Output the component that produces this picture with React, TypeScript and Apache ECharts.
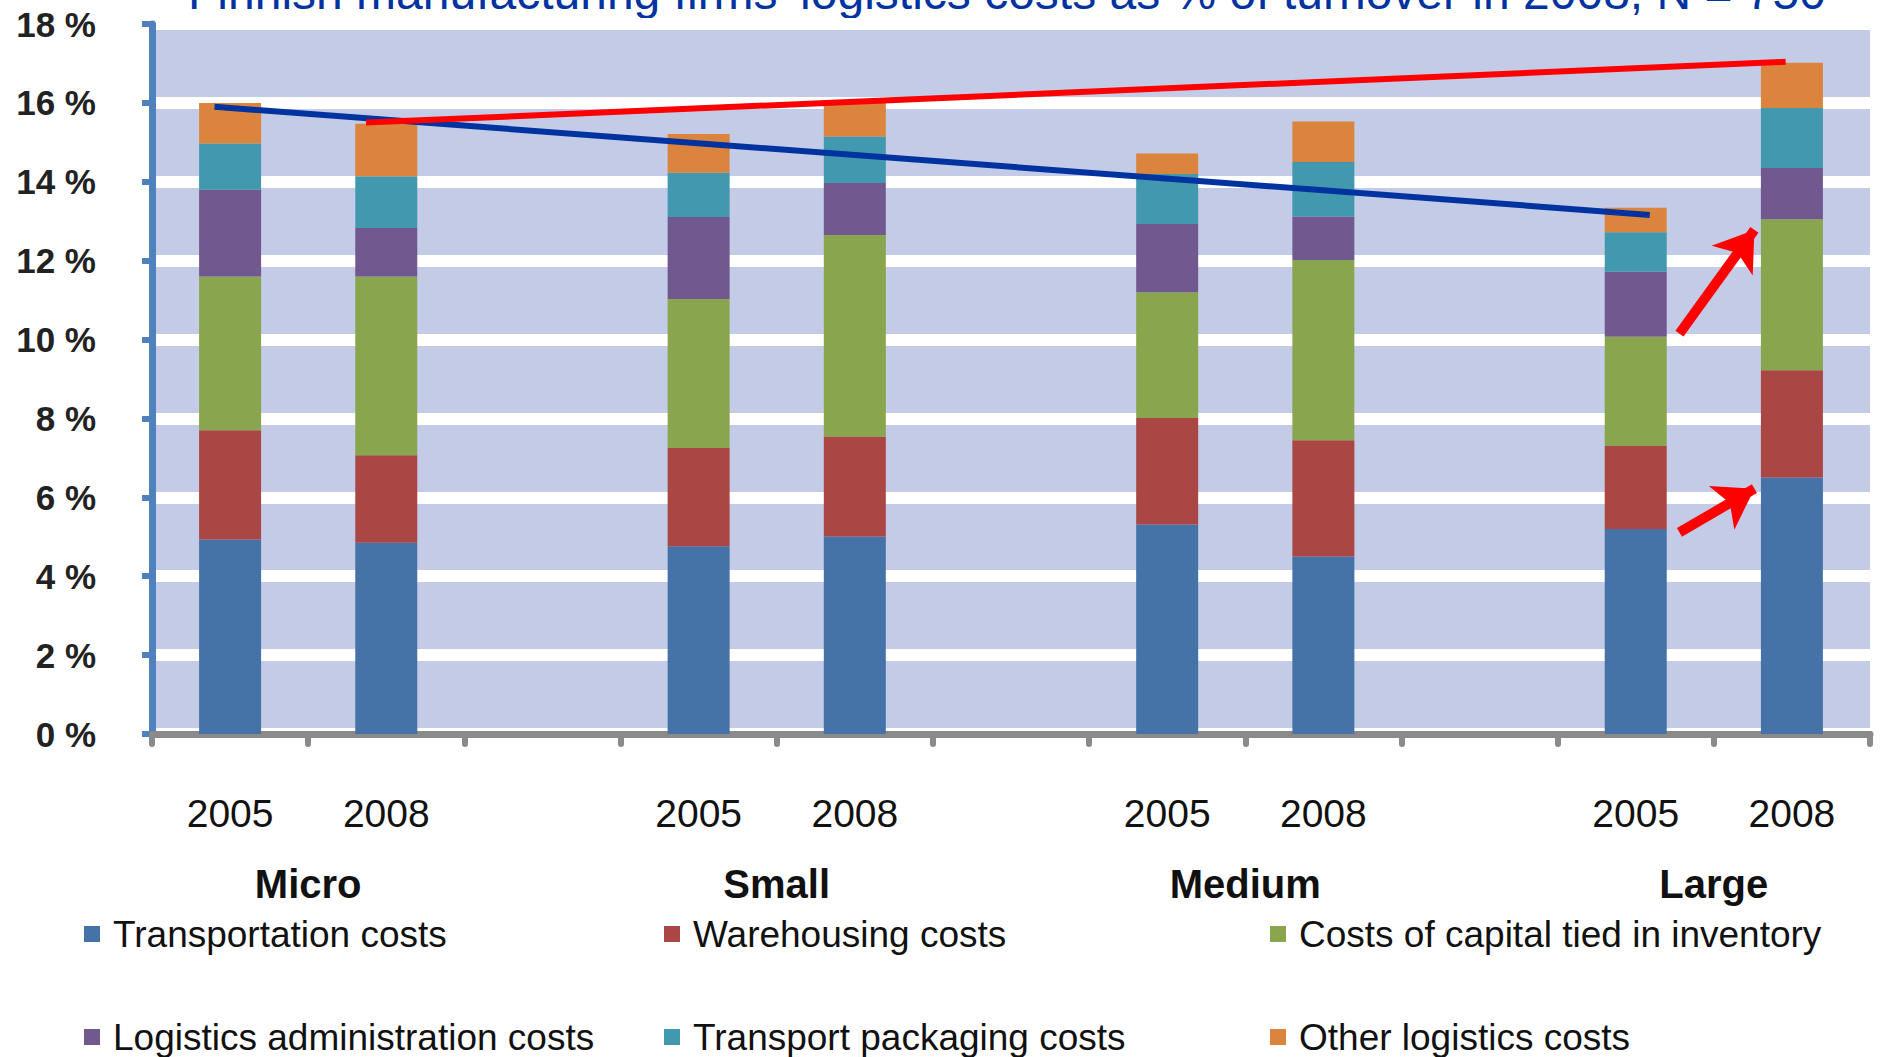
import React, { useEffect, useRef } from "react";
import * as echarts from "echarts";

const titleText = "Finnish manufacturing firms' logistics costs as % of turnover in 2008, N = 750";
const categories = ["2005", "2008", "", "2005", "2008", "", "2005", "2008", "", "2005", "2008"];
const groupLabels = ["Micro", "Small", "Medium", "Large"];
const groupPositions = [1, 4, 7, 10];
const yTicks = { min: 0, max: 18, interval: 2 };

const seriesNames = [
  "Transportation costs",
  "Warehousing costs",
  "Costs of capital tied in inventory",
  "Logistics administration costs",
  "Transport packaging costs",
  "Other logistics costs",
];
const seriesColors = ["#4572A7", "#AA4643", "#89A54E", "#71588F", "#4198AF", "#DB843D"];

const transport = [4.93, 4.85, null, 4.76, 5.01, null, 5.31, 4.5, null, 5.2, 6.5];
const warehousing = [2.77, 2.22, null, 2.49, 2.53, null, 2.7, 2.95, null, 2.1, 2.72];
const capital = [3.9, 4.53, null, 3.78, 5.11, null, 3.19, 4.57, null, 2.77, 3.83];
const admin = [2.2, 1.23, null, 2.08, 1.32, null, 1.73, 1.1, null, 1.65, 1.3];
const packaging = [1.17, 1.31, null, 1.12, 1.18, null, 1.27, 1.38, null, 1.0, 1.52];
const other = [1.03, 1.33, null, 0.98, 0.85, null, 0.52, 1.03, null, 0.62, 1.15];

const trend2005 = [[0.4, 15.9], [9.59, 13.16]];
const trend2008 = [[1.37, 15.5], [10.46, 17.04]];
const arrowUpper = [[9.78, 10.15], [10.26, 12.78]];
const arrowLower = [[9.78, 5.11], [10.26, 6.22]];

const sans = '"Liberation Sans", Arial, sans-serif';

// legend slot: [seriesIndex, left, top]
const legendSlots = [
  [0, 84, 914],
  [1, 664, 914],
  [2, 1270, 914],
  [3, 84, 1017],
  [4, 664, 1017],
  [5, 1270, 1017],
];

export default function App() {
  const ref = useRef<HTMLDivElement>(null);
  useEffect(() => {
    if (!ref.current) return;
    const chart = echarts.init(ref.current, undefined, { renderer: "svg" });
    const values = [transport, warehousing, capital, admin, packaging, other];
    chart.setOption({
      animation: false,
      backgroundColor: "#ffffff",
      grid: {
        left: 152,
        right: 11,
        top: 24,
        bottom: 323,
        show: true,
        backgroundColor: "#c3cbe7",
        borderWidth: 0,
        containLabel: false,
      },
      graphic: [
        {
          type: "text",
          x: 1007,
          y: -8,
          style: {
            text: titleText,
            align: "center",
            verticalAlign: "middle",
            fontSize: 48,
            fontFamily: sans,
            fill: "#0033a0",
          },
        },
      ],
      legend: legendSlots.map(([si, left, top]) => ({
        orient: "horizontal",
        left,
        top,
        padding: 0,
        itemWidth: 16,
        itemHeight: 16,
        icon: "rect",
        selectedMode: false,
        data: [seriesNames[si]],
        textStyle: { fontFamily: sans, fontSize: 37, color: "#111", lineHeight: 40, padding: [0, 0, 0, 8] },
      })),
      xAxis: [
        {
          type: "category",
          data: categories,
          boundaryGap: true,
          axisLine: { show: true, lineStyle: { color: "#8a8a8a", width: 7 } },
          axisTick: {
            show: true,
            alignWithLabel: false,
            interval: 0,
            length: 10,
            lineStyle: { color: "#8a8a8a", width: 6, cap: "round" },
          },
          axisLabel: {
            interval: 0,
            margin: 60,
            fontFamily: sans,
            fontSize: 39,
            color: "#111",
          },
          splitLine: { show: false },
        },
        {
          type: "value",
          min: 0,
          max: 11,
          interval: 1,
          position: "bottom",
          axisLine: { show: false },
          axisTick: { show: false },
          splitLine: { show: false },
          axisLabel: {
            margin: 130,
            fontFamily: sans,
            fontSize: 40,
            fontWeight: "bold",
            color: "#111",
            showMinLabel: true,
            showMaxLabel: true,
            formatter: (v: number) => {
              const i = groupPositions.indexOf(Math.round(v));
              return i >= 0 ? groupLabels[i] : "";
            },
          },
        },
      ],
      yAxis: {
        type: "value",
        min: yTicks.min,
        max: yTicks.max,
        interval: yTicks.interval,
        axisLine: { show: true, lineStyle: { color: "#4f81bd", width: 7 } },
        axisTick: { show: true, length: 10, lineStyle: { color: "#4f81bd", width: 6 } },
        axisLabel: {
          margin: 56,
          fontFamily: sans,
          fontWeight: "bold",
          fontSize: 35,
          color: "#222",
          formatter: (v: number) => `${v} %`,
        },
        splitLine: { show: true, lineStyle: { color: "#ffffff", width: 12 } },
      },
      series: [
        ...values.map((d, i) => ({
          name: seriesNames[i],
          type: "bar",
          stack: "total",
          barWidth: 62,
          data: d,
          itemStyle: { color: seriesColors[i] },
          xAxisIndex: 0,
          yAxisIndex: 0,
        })),
        {
          name: "trend2005",
          type: "line",
          xAxisIndex: 1,
          yAxisIndex: 0,
          data: trend2005,
          symbol: "none",
          lineStyle: { color: "#0033a0", width: 6 },
          z: 5,
        },
        {
          name: "trend2008",
          type: "line",
          xAxisIndex: 1,
          yAxisIndex: 0,
          data: trend2008,
          symbol: "none",
          lineStyle: { color: "#ff0000", width: 6 },
          z: 6,
        },
        {
          name: "arrows",
          type: "line",
          xAxisIndex: 1,
          yAxisIndex: 0,
          data: [],
          z: 7,
          markLine: {
            silent: true,
            symbol: ["none", "arrow"],
            symbolSize: 38,
            label: { show: false },
            lineStyle: { color: "#ff0000", width: 10, type: "solid" },
            data: [
              [{ coord: arrowUpper[0] }, { coord: arrowUpper[1] }],
              [{ coord: arrowLower[0] }, { coord: arrowLower[1] }],
            ],
          },
        },
      ],
    });
    return () => chart.dispose();
  }, []);
  return (
    <div
      ref={ref}
      style={{ position: "fixed", left: 0, top: 0, width: 1881, height: 1057 }}
    />
  );
}
